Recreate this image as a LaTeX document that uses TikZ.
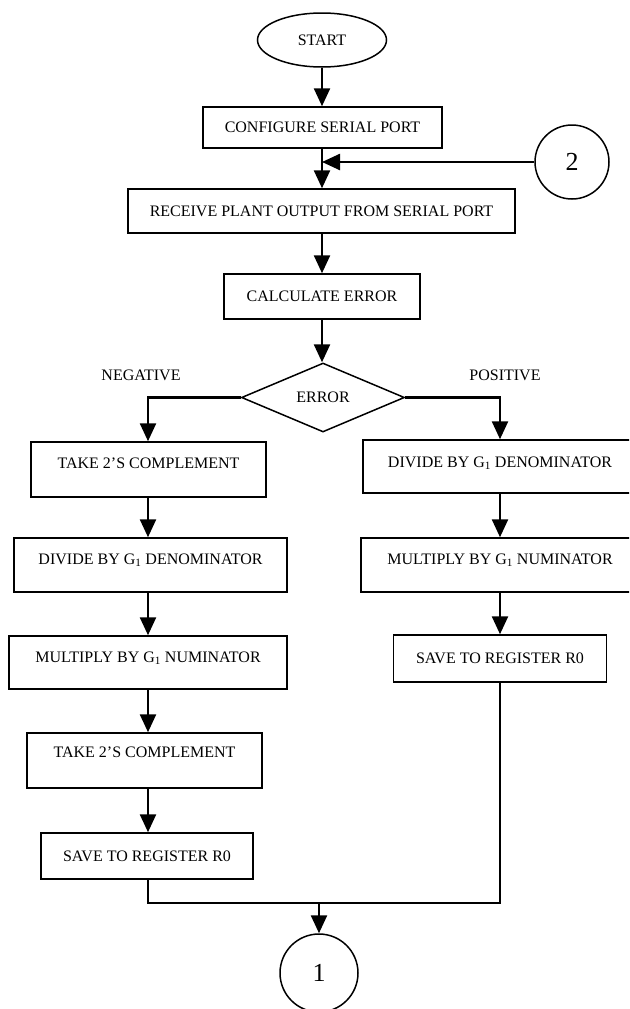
\documentclass[tikz,border=0pt]{standalone}
\usepackage{fontspec}
\setmainfont{Liberation Serif}
\usetikzlibrary{shapes.geometric, arrows.meta}
\begin{document}
\begin{tikzpicture}[x=1pt, y=-1pt,
    boxStyle/.style={rectangle, draw, line width=1.5pt, inner sep=0pt, font=\fontsize{16}{18}\selectfont},
    termStyle/.style={ellipse, draw, line width=1.5pt, inner sep=0pt, font=\fontsize{16}{18}\selectfont},
    decStyle/.style={diamond, draw, line width=1.5pt, inner sep=0pt, aspect=2.36, font=\fontsize{16}{18}\selectfont},
    connStyle/.style={circle, draw, line width=1.5pt, inner sep=0pt, font=\fontsize{26}{28}\selectfont},
    labelStyle/.style={inner sep=0pt, font=\fontsize{16}{18}\selectfont},
    arrowStyle/.style={line width=2.5pt, -{Triangle[length=18pt, width=16pt]}},
    lineStyle/.style={line width=2pt}]
    \clip (0,0) rectangle (629,1009);

    \node[termStyle, minimum width=129pt, minimum height=54pt](start) at (322, 40) {START};
    \node[boxStyle, minimum width=239pt, minimum height=41pt](config) at (322.5, 127.5) {CONFIGURE SERIAL PORT};
    \node[connStyle, minimum size=74pt](c2) at (572, 162) {2};
    \coordinate (merge) at (322, 162);
    \node[boxStyle, minimum width=387pt, minimum height=44pt](receive) at (321.5, 211) {RECEIVE PLANT OUTPUT FROM SERIAL PORT};
    \node[boxStyle, minimum width=196pt, minimum height=45pt](calc) at (322, 296.5) {CALCULATE ERROR};
    \node[decStyle, minimum width=163pt, minimum height=69pt](error) at (323, 397.5) {ERROR};
    \node[labelStyle](neg) at (141, 375) {NEGATIVE};
    \node[labelStyle](pos) at (505, 375) {POSITIVE};

    \node[boxStyle, minimum width=235pt, minimum height=55pt, text depth=12pt](l1) at (148.5, 469.5) {TAKE 2’S COMPLEMENT};
    \node[boxStyle, minimum width=273pt, minimum height=54pt, text depth=12pt](l2) at (150.5, 565) {DIVIDE BY G\textsubscript{1} DENOMINATOR};
    \node[boxStyle, minimum width=278pt, minimum height=53pt, text depth=11pt](l3) at (148, 662.5) {MULTIPLY BY G\textsubscript{1} NUMINATOR};
    \node[boxStyle, minimum width=235pt, minimum height=55pt, text depth=16pt](l4) at (144.5, 760.5) {TAKE 2’S COMPLEMENT};
    \node[boxStyle, minimum width=212pt, minimum height=46pt](l5) at (147, 856) {SAVE TO REGISTER R0};

    \node[boxStyle, minimum width=274pt, minimum height=53pt, text depth=9pt](r1) at (500, 466.5) {DIVIDE BY G\textsubscript{1} DENOMINATOR};
    \node[boxStyle, minimum width=278pt, minimum height=54pt, text depth=12pt](r2) at (500, 565) {MULTIPLY BY G\textsubscript{1} NUMINATOR};
    \node[boxStyle, minimum width=213pt, minimum height=47pt](r3) at (500, 658.5) {SAVE TO REGISTER R0};

    \coordinate (jl) at (148, 903);
    \coordinate (jm) at (319, 903);
    \coordinate (jr) at (500, 903);
    \node[connStyle, minimum size=78pt](c1) at (319, 973) {1};

    \draw[arrowStyle] (start.south) -- (start.south |- config.north);
    \draw[arrowStyle] (merge |- config.south) -- (merge |- receive.north);
    \draw[arrowStyle] (c2) -- (merge);
    \draw[arrowStyle] (merge |- receive.south) -- (merge |- calc.north);
    \draw[arrowStyle] (merge |- calc.south) -- (merge |- error.north);
    \draw[arrowStyle] (error.west) -| (jl |- l1.north);
    \draw[arrowStyle] (error.east) -| (r1.north);

    \draw[arrowStyle] (jl |- l1.south) -- (jl |- l2.north);
    \draw[arrowStyle] (jl |- l2.south) -- (jl |- l3.north);
    \draw[arrowStyle] (jl |- l3.south) -- (jl |- l4.north);
    \draw[arrowStyle] (jl |- l4.south) -- (jl |- l5.north);
    \draw[arrowStyle] (r1.south) -- (r2.north);
    \draw[arrowStyle] (r2.south) -- (r3.north);

    \draw[lineStyle] (jl |- l5.south) -- (jl) -- (jr) -- (r3.south);
    \draw[arrowStyle] (jm) -- (c1);
\end{tikzpicture}
\end{document}
